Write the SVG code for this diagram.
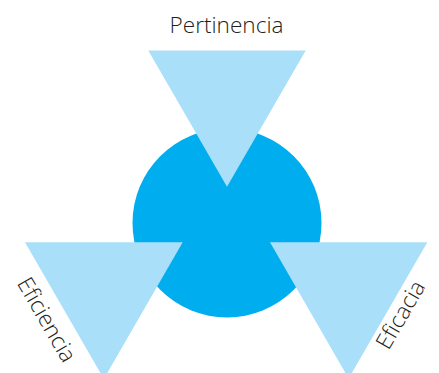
<svg xmlns="http://www.w3.org/2000/svg" width="439" height="373" viewBox="0 0 439 373">
  <style>
    .tri { fill: #a9dff8; }
    .core { fill: #00aeef; }
    .lbl { font-family: "Open Sans", "Liberation Sans", sans-serif; font-weight: 300; font-size: 22.6px; fill: #231f20; text-anchor: middle; }
  </style>
  <rect width="439" height="373" fill="#ffffff"/>
  <g id="centro">
    <circle class="core" cx="227" cy="223" r="94.5"/>
  </g>
  <g id="connectors"></g>
  <g id="pertinencia">
    <polygon class="tri" points="148.3,50.5 305.7,50.5 227,186.8"/>
    <text class="lbl" x="226.5" y="33.3">Pertinencia</text>
  </g>
  <g id="eficiencia">
    <polygon class="tri" points="25,242.3 182.7,242.3 103.85,378.9"/>
    <text class="lbl" transform="translate(40,323.6) rotate(60)" x="0" y="0">Eficiencia</text>
  </g>
  <g id="eficacia">
    <polygon class="tri" points="270,242.3 427.3,242.3 348.65,378.5"/>
    <text class="lbl" transform="translate(407.3,318.7) rotate(-60)" x="0" y="0">Eficacia</text>
  </g>
</svg>
